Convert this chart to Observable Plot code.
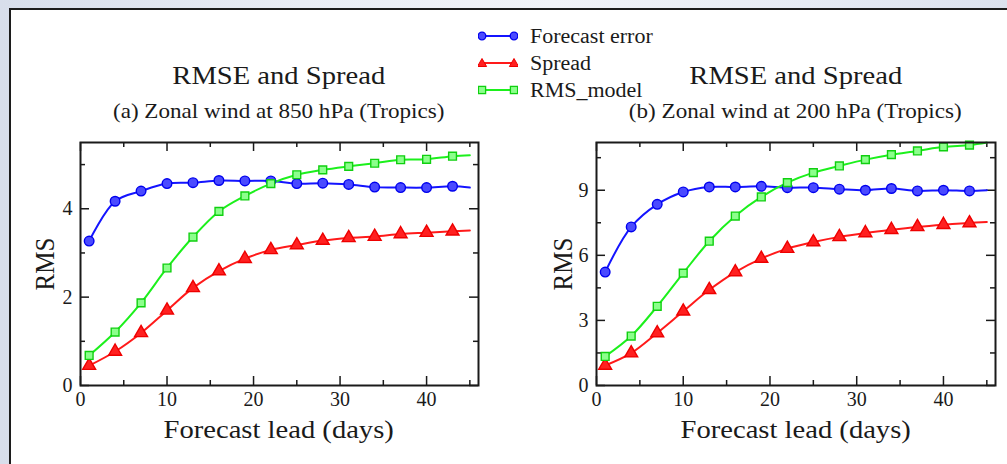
<!DOCTYPE html>
<html>
<head>
<meta charset="utf-8">
<script src="https://cdn.jsdelivr.net/npm/d3@7"></script>
<script src="https://cdn.jsdelivr.net/npm/@observablehq/plot@0.6"></script>
<style>
  html {
    margin: 0; padding: 0; overflow: hidden;
    background: linear-gradient(to right, #d8deeb 0%, #e9edf5 30%, #f1f3f8 55%, #e6ebf4 80%, #dce2ee 100%);
  }
  body {
    margin: 0; padding: 0;
    width: 1007px; height: 464px; position: relative;
    font-family: "Liberation Serif", "Times New Roman", serif; color: #1a1a1a;
  }
  #box {
    position: absolute; left: 9px; top: 8px; width: 1300px; height: 700px;
    background: #fff; border-left: 2.5px solid #1c1c1c; border-top: 2.5px solid #1c1c1c;
  }
  .abs { position: absolute; }
  .center { text-align: center; white-space: nowrap; }
  .sx { display: inline-block; transform: scaleX(1.1); transform-origin: center; }
  .title { font-size: 26px; line-height: 26px; }
  .subtitle { font-size: 21px; line-height: 21px; }
  .xlabel { font-size: 26px; line-height: 26px; }
  .ylabel { font-size: 25px; line-height: 25px; white-space: nowrap; transform: translate(-50%, -50%) rotate(-90deg) scaleY(1.1); }
  .legrow { position: absolute; left: 478px; height: 22px; display: flex; align-items: center; white-space: nowrap; }
  .legrow svg { display: block; }
  .legtext { font-size: 20px; margin-left: 12px; display: inline-block; transform: scaleX(1.1); transform-origin: left center; }
</style>
</head>
<body>
<div id="box"></div>
<div id="panelA" class="abs" style="left:0px; top:130px;"></div>
<div id="panelB" class="abs" style="left:516px; top:130px;"></div>
<div id="texts"></div>
<div id="legend"></div>
<script>
// ---------- data ----------
const days = [1, 4, 7, 10, 13, 16, 19, 22, 25, 28, 31, 34, 37, 40, 43, 45];
const markerDays = [1, 4, 7, 10, 13, 16, 19, 22, 25, 28, 31, 34, 37, 40, 43];

const seriesNames = ["Forecast error", "Spread", "RMS_model"];

// (a) Zonal wind at 850 hPa
const errorA  = [3.27, 4.17, 4.40, 4.57, 4.59, 4.64, 4.63, 4.63, 4.57, 4.58, 4.55, 4.49, 4.48, 4.48, 4.51, 4.48];
const spreadA = [0.45, 0.77, 1.19, 1.70, 2.21, 2.59, 2.87, 3.07, 3.18, 3.28, 3.34, 3.37, 3.43, 3.46, 3.49, 3.51];
const modelA  = [0.68, 1.21, 1.87, 2.66, 3.36, 3.94, 4.29, 4.57, 4.77, 4.88, 4.96, 5.03, 5.11, 5.12, 5.19, 5.21];

// (b) Zonal wind at 200 hPa
const errorB  = [5.23, 7.31, 8.35, 8.92, 9.15, 9.15, 9.18, 9.12, 9.12, 9.05, 9.00, 9.08, 8.97, 9.00, 8.97, 9.00];
const spreadB = [0.92, 1.49, 2.42, 3.42, 4.41, 5.23, 5.85, 6.31, 6.61, 6.85, 7.03, 7.18, 7.31, 7.41, 7.49, 7.54];
const modelB  = [1.34, 2.28, 3.65, 5.18, 6.65, 7.81, 8.69, 9.35, 9.81, 10.12, 10.41, 10.64, 10.81, 11.00, 11.08, 11.20];

const xTickLabels = [0, 10, 20, 30, 40];
const xMinorTicks = [5, 15, 25, 35, 45];
const yTicksA = [0, 2, 4];
const yMinorA = [1, 3, 5];
const yTicksB = [0, 3, 6, 9];
const yMinorB = [1.5, 4.5, 7.5, 10.5];

const titles = ["RMSE and Spread", "RMSE and Spread"];
const subtitles = ["(a) Zonal wind at 850 hPa (Tropics)", "(b) Zonal wind at 200 hPa (Tropics)"];
const xLabel = "Forecast lead (days)";
const yLabel = "RMS";

// ---------- styles ----------
const styles = {
  "Forecast error": {line: "#1414ff", fill: "#4a4aff", stroke: "#0000ee", symbol: "circle", r: 4.8},
  "Spread":         {line: "#ff1a1a", fill: "#ff2020", stroke: "#ee0000", symbol: "triangle", r: 4.8},
  "RMS_model":      {line: "#1cf01c", fill: "#8cff8c", stroke: "#10d010", symbol: "square", r: 4.4}
};

function rowsFor(values) {
  const out = [];
  seriesNames.forEach((name, i) => {
    values[i].forEach((v, j) => out.push({series: name, day: days[j], value: v}));
  });
  return out;
}

function panel(target, {values, yDomain, yMajor, yMinor, marginRight, frameW}) {
  const marginLeft = 80, marginTop = 12, marginBottom = 40, frameH = 243;
  const width = marginLeft + frameW + marginRight;
  const height = marginTop + frameH + marginBottom;
  const rows = rowsFor(values);
  const markerRows = rows.filter(d => markerDays.includes(d.day));
  const major = 9, minor = 5;
  const tickStyle = {stroke: "#1a1a1a", strokeWidth: 1.5};
  const marks = [
    Plot.axisX({ticks: xTickLabels, tickSize: 0, tickPadding: 6, label: null, fontSize: 20, tickFormat: d => String(d)}),
    Plot.axisY({ticks: yMajor, tickSize: 0, tickPadding: 8, label: null, fontSize: 20, tickFormat: d => String(d)}),
    // inward ticks, bottom / top
    Plot.tickX(xTickLabels, {x: d => d, insetTop: frameH - major, ...tickStyle}),
    Plot.tickX(xMinorTicks, {x: d => d, insetTop: frameH - minor, ...tickStyle}),
    Plot.tickX(xTickLabels, {x: d => d, insetBottom: frameH - major, ...tickStyle}),
    Plot.tickX(xMinorTicks, {x: d => d, insetBottom: frameH - minor, ...tickStyle}),
    // inward ticks, left / right
    Plot.tickY(yMajor, {y: d => d, insetRight: frameW - major, ...tickStyle}),
    Plot.tickY(yMinor, {y: d => d, insetRight: frameW - minor, ...tickStyle}),
    Plot.tickY(yMajor, {y: d => d, insetLeft: frameW - major, ...tickStyle}),
    Plot.tickY(yMinor, {y: d => d, insetLeft: frameW - minor, ...tickStyle})
  ];
  seriesNames.forEach(name => {
    const s = styles[name];
    marks.push(Plot.line(rows.filter(d => d.series === name), {
      x: "day", y: "value", stroke: s.line, strokeWidth: 2, curve: "catmull-rom"
    }));
  });
  seriesNames.forEach(name => {
    const s = styles[name];
    marks.push(Plot.dot(markerRows.filter(d => d.series === name), {
      x: "day", y: "value", symbol: s.symbol, r: s.r, fill: s.fill, stroke: s.stroke, strokeWidth: 1.4
    }));
  });
  marks.push(Plot.frame({stroke: "#1a1a1a", strokeWidth: 2}));

  const chart = Plot.plot({
    width, height, marginLeft, marginRight, marginTop, marginBottom,
    x: {domain: [0, 46]},
    y: {domain: yDomain},
    style: {fontFamily: "'Liberation Serif', 'Times New Roman', serif", fontSize: "20px", background: "transparent", color: "#1a1a1a", overflow: "visible"},
    marks
  });
  document.getElementById(target).appendChild(chart);
}

panel("panelA", {values: [errorA, spreadA, modelA], yDomain: [0, 5.5], yMajor: yTicksA, yMinor: yMinorA, marginRight: 22, frameW: 398});
panel("panelB", {values: [errorB, spreadB, modelB], yDomain: [0, 11.2], yMajor: yTicksB, yMinor: yMinorB, marginRight: 3, frameW: 399});

// ---------- titles and axis labels (HTML text) ----------
const texts = document.getElementById("texts");
const frames = [{left: 80, width: 398}, {left: 596, width: 399}];
const yLabelX = [45, 563];
frames.forEach((f, i) => {
  const t = document.createElement("div");
  t.className = "abs center title";
  t.style.left = f.left + "px"; t.style.width = f.width + "px"; t.style.top = "63px";
  t.innerHTML = `<span class="sx">${titles[i]}</span>`;
  texts.appendChild(t);

  const s = document.createElement("div");
  s.className = "abs center subtitle";
  s.style.left = f.left + "px"; s.style.width = f.width + "px"; s.style.top = "101px";
  s.innerHTML = `<span class="sx">${subtitles[i]}</span>`;
  texts.appendChild(s);

  const xl = document.createElement("div");
  xl.className = "abs center xlabel";
  xl.style.left = f.left + "px"; xl.style.width = f.width + "px"; xl.style.top = "417px";
  xl.innerHTML = `<span class="sx">${xLabel}</span>`;
  texts.appendChild(xl);

  const yl = document.createElement("div");
  yl.className = "abs ylabel";
  yl.style.left = yLabelX[i] + "px"; yl.style.top = "264px";
  yl.textContent = yLabel;
  texts.appendChild(yl);
});

// ---------- legend ----------
const legend = document.getElementById("legend");
const legendTops = [25, 52, 79];
function markerSvg(s, cx, cy) {
  if (s.symbol === "circle") return `<circle cx="${cx}" cy="${cy}" r="3.8" fill="${s.fill}" stroke="${s.stroke}" stroke-width="1.3"/>`;
  if (s.symbol === "triangle") return `<path d="M${cx},${cy-4.5}L${cx+4.6},${cy+3.5}L${cx-4.6},${cy+3.5}Z" fill="${s.fill}" stroke="${s.stroke}" stroke-width="1"/>`;
  return `<rect x="${cx-3.6}" y="${cy-3.6}" width="7.2" height="7.2" fill="${s.fill}" stroke="${s.stroke}" stroke-width="1.3"/>`;
}
seriesNames.forEach((name, i) => {
  const s = styles[name];
  const row = document.createElement("div");
  row.className = "legrow";
  row.style.top = legendTops[i] + "px";
  row.innerHTML = `<svg width="40" height="22"><line x1="4" y1="11" x2="36" y2="11" stroke="${s.line}" stroke-width="2"/>${markerSvg(s, 4, 11)}${markerSvg(s, 36, 11)}</svg><span class="legtext">${name}</span>`;
  legend.appendChild(row);
});
</script>
</body>
</html>
